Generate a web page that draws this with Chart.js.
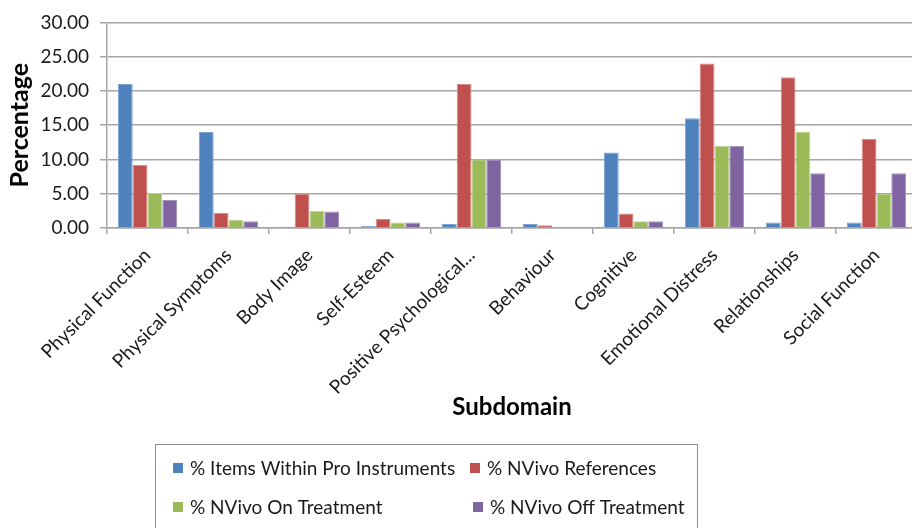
<!DOCTYPE html>
<html>
<head>
<meta charset="utf-8">
<script src="https://cdn.jsdelivr.net/npm/chart.js@4"></script>
<style>
  html, body { margin: 0; padding: 0; overflow: hidden; background: #fff; }
  #wrap { width: 920px; height: 528px; }
</style>
</head>
<body>
<div id="wrap"><canvas id="c" width="920" height="528"></canvas></div>
<script>
// Subdomain categories and the four percentage series
const subdomains = [
  'Physical Function', 'Physical Symptoms', 'Body Image', 'Self-Esteem',
  'Positive Psychological...', 'Behaviour', 'Cognitive', 'Emotional Distress',
  'Relationships', 'Social Function'
];
const itemsWithinPro    = [21.0, 14.0, 0.2, 0.3, 0.6, 0.6, 11.0, 16.0, 0.8, 0.8];
const nvivoReferences   = [9.2, 2.2, 5.0, 1.3, 21.0, 0.4, 2.1, 24.0, 22.0, 13.0];
const nvivoOnTreatment  = [5.1, 1.2, 2.5, 0.8, 10.0, 0.0, 1.0, 12.0, 14.0, 5.0];
const nvivoOffTreatment = [4.1, 1.0, 2.4, 0.8, 10.0, 0.0, 1.0, 12.0, 8.0, 8.0];
const seriesLabels = [
  '% Items Within Pro Instruments', '% NVivo References',
  '% NVivo On Treatment', '% NVivo Off Treatment'
];
const yMin = 0, yMax = 30, yStep = 5;

const FONT = 'Lato, "Open Sans", sans-serif';
const gridGray = '#a6a6a6';

// Boxed two-column legend under the axis title
const boxLegend = {
  id: 'boxLegend',
  afterDraw(chart, args, o) {
    const ctx = chart.ctx;
    ctx.save();
    ctx.strokeStyle = '#8e8e8e';
    ctx.lineWidth = 1;
    ctx.strokeRect(o.x + 0.5, o.y + 0.5, o.w, o.h);
    ctx.font = o.fontSize + 'px ' + FONT;
    ctx.textBaseline = 'middle';
    ctx.textAlign = 'left';
    chart.data.datasets.forEach((ds, i) => {
      const x = o.itemX[i];
      const y = o.rowY[Math.floor(i / 2)];
      ctx.fillStyle = ds.backgroundColor;
      ctx.fillRect(x, y - 5, 10, 10);
      ctx.fillStyle = '#1a1a1a';
      ctx.fillText(ds.label, x + 17, y + 1);
    });
    ctx.restore();
  }
};

const colors = ['#4f81bd', '#c0504d', '#9bbb59', '#8064a2'];
const edges  = ['#7fa3d1', '#d98a88', '#bcd28e', '#a592c0'];
const values = [itemsWithinPro, nvivoReferences, nvivoOnTreatment, nvivoOffTreatment];

new Chart(document.getElementById('c'), {
  type: 'bar',
  data: {
    labels: subdomains,
    datasets: values.map((v, i) => ({
      label: seriesLabels[i],
      data: v,
      backgroundColor: colors[i],
      borderColor: edges[i],
      borderWidth: 1,
      barPercentage: 1.0,
      categoryPercentage: 0.73
    }))
  },
  options: {
    responsive: false,
    animation: false,
    layout: { padding: { top: 19, left: 0, right: 3, bottom: 98 } },
    plugins: {
      legend: { display: false },
      tooltip: { enabled: false },
      boxLegend: {
        x: 155, y: 444, w: 542, h: 100,
        fontSize: 19,
        itemX: [173, 470, 173, 473],
        rowY: [468, 507]
      }
    },
    scales: {
      x: {
        afterFit(s) { s.height = 202; },
        grid: {
          drawOnChartArea: false, drawTicks: true, tickLength: 6,
          color: gridGray, lineWidth: 1.5, offset: true
        },
        border: { color: gridGray, width: 1.5 },
        ticks: {
          minRotation: 45, maxRotation: 45, autoSkip: false,
          padding: 10, color: '#1a1a1a',
          font: { family: FONT, size: 19 }
        },
        title: {
          display: true, text: 'Subdomain', color: '#000',
          font: { family: FONT, size: 24, weight: 'bold' },
          padding: 8
        }
      },
      y: {
        min: yMin, max: yMax,
        afterFit(s) { s.width = 107; },
        grid: { color: gridGray, lineWidth: 1.5, tickLength: 7 },
        border: { color: gridGray, width: 1.5 },
        ticks: {
          stepSize: yStep, padding: 11, color: '#1a1a1a',
          font: { family: FONT, size: 19 },
          callback: v => Number(v).toFixed(2)
        },
        title: {
          display: true, text: 'Percentage', color: '#000',
          font: { family: FONT, size: 25, weight: 'bold' },
          padding: 5
        }
      }
    }
  },
  plugins: [boxLegend]
});
</script>
</body>
</html>
